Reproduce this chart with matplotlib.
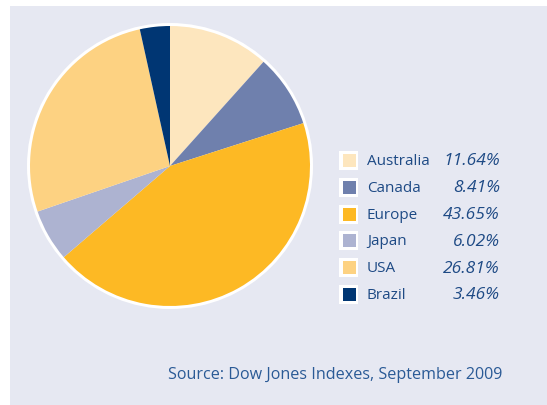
import matplotlib
matplotlib.use('Agg')
import matplotlib.pyplot as plt
from matplotlib.patches import Rectangle, Circle

# Data
regions = ['Australia', 'Canada', 'Europe', 'Japan', 'USA', 'Brazil']
shares = [11.64, 8.41, 43.65, 6.02, 26.81, 3.46]
colors = ['#FDE6BE', '#6F80AD', '#FDB924', '#ADB3D1', '#FDD282', '#003673']
source_text = 'Source: Dow Jones Indexes, September 2009'

W, H = 547, 406
text_color = '#1E4A85'
plt.rcParams['font.family'] = ['Open Sans', 'DejaVu Sans']

fig = plt.figure(figsize=(W / 100, H / 100), dpi=100)
ax = fig.add_axes([0, 0, 1, 1])

# Background panel
ax.add_patch(Rectangle((10, 0), W - 10, H - 7, facecolor='#E6E8F2', edgecolor='none', zorder=0))

# White ring around the pie
cx, cy, r = 170, H - 167, 140
ax.add_patch(Circle((cx, cy), r + 3, facecolor='white', edgecolor='none', zorder=1))

ax.pie(shares, colors=colors, startangle=90, counterclock=False,
       center=(cx, cy), radius=r, frame=True,
       wedgeprops=dict(edgecolor='none', linewidth=0, zorder=2))
ax.set_xlim(0, W)
ax.set_ylim(0, H)
ax.set_aspect('auto')
ax.axis('off')

# Legend
y0 = 161.5
step = 26.8
for i, (name, val, col) in enumerate(zip(regions, shares, colors)):
    y = H - (y0 + i * step)
    ax.add_patch(Rectangle((339, y - 9.5), 19, 19, facecolor='white', edgecolor='none', zorder=3))
    ax.add_patch(Rectangle((342.5, y - 6.5), 13, 13, facecolor=col, edgecolor='none', zorder=4))
    ax.text(367, y, name, fontsize=11, color=text_color, va='center', ha='left', zorder=5)
    ax.text(500, y, f'{val:.2f}%', fontsize=12.5, color=text_color, va='center', ha='right',
            style='italic', zorder=5)

ax.text(168, H - 375, source_text, fontsize=11.6, color='#2A5A96', va='center', ha='left')

fig.savefig('out.png', dpi=100)
